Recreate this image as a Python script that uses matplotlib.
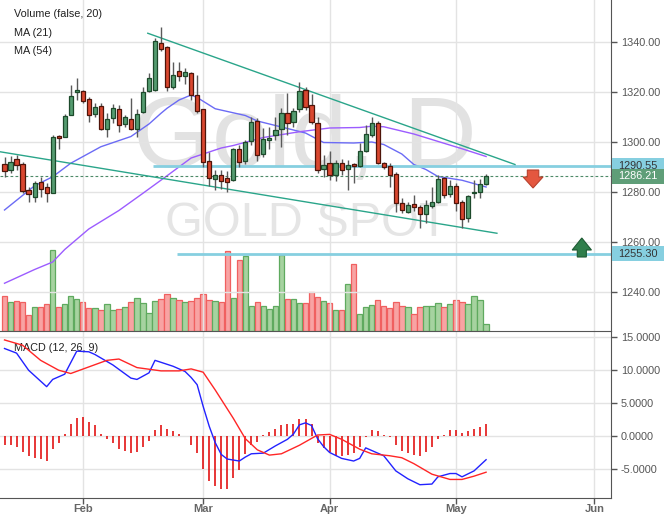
import matplotlib
matplotlib.use("Agg")
import matplotlib.pyplot as plt
import matplotlib.transforms as mtransforms
from matplotlib.patches import Rectangle, FancyArrow
from matplotlib.ticker import FormatStrFormatter

plt.rcParams['font.family'] = ['Liberation Sans', 'DejaVu Sans']
plt.rcParams['axes.unicode_minus'] = False

# --- data: gold spot, daily trading bars (index 0 = 2019-01-15) ---
opens = [1291.1, 1288.8, 1293.1, 1291.2, 1280.8, 1278.1, 1283.9, 1281.9, 1279.7, 1302.3,
         1302.1, 1310.8, 1319.9, 1320.4, 1317.1, 1311.1, 1314.4, 1305.3, 1309.5, 1313.1,
         1307.1, 1309.1, 1305.1, 1311.9, 1320.5, 1321.0, 1339.7, 1337.9, 1321.9, 1328.3,
         1326.5, 1327.7, 1318.7, 1313.1, 1292.3, 1285.3, 1286.7, 1285.6, 1284.8, 1297.1,
         1292.5, 1300.3, 1308.4, 1295.1, 1300.7, 1302.7, 1305.1, 1311.5, 1308.1, 1313.1,
         1320.8, 1314.7, 1307.7, 1289.1, 1291.5, 1286.7, 1291.5, 1289.1, 1291.1, 1290.4,
         1296.5, 1302.8, 1307.5, 1291.5, 1290.4, 1287.1, 1275.5, 1272.1, 1275.1, 1273.9,
         1271.1, 1274.5, 1275.9, 1285.5, 1279.1, 1282.4, 1275.9, 1269.5, 1279.5, 1280.1,
         1283.2]
highs = [1293.9, 1294.4, 1294.8, 1292.1, 1282.1, 1284.5, 1285.9, 1283.5, 1302.8, 1302.8,
         1311.2, 1322.8, 1325.5, 1320.9, 1318.1, 1315.7, 1315.7, 1311.5, 1315.2, 1314.8,
         1310.8, 1317.5, 1313.2, 1321.9, 1327.7, 1341.6, 1346.1, 1338.5, 1332.1, 1331.9,
         1329.5, 1327.9, 1326.8, 1313.4, 1296.1, 1288.8, 1288.8, 1288.5, 1297.5, 1298.8,
         1300.8, 1310.1, 1309.5, 1305.5, 1305.9, 1310.1, 1313.7, 1319.7, 1313.7, 1324.1,
         1322.1, 1319.1, 1309.9, 1294.8, 1296.5, 1292.8, 1293.1, 1292.8, 1291.5, 1299.5,
         1306.8, 1310.1, 1308.5, 1292.1, 1291.5, 1288.1, 1277.5, 1276.1, 1278.8, 1274.8,
         1276.8, 1281.9, 1286.8, 1286.1, 1284.8, 1283.5, 1276.8, 1278.8, 1284.8, 1285.1,
         1287.1]
lows = [1286.1, 1287.5, 1288.8, 1279.5, 1276.1, 1276.1, 1278.1, 1276.1, 1279.5, 1297.1,
        1302.1, 1310.8, 1316.8, 1315.7, 1308.1, 1309.9, 1304.8, 1302.1, 1307.5, 1304.1,
        1305.9, 1304.8, 1302.1, 1311.5, 1320.1, 1320.5, 1336.5, 1320.4, 1321.1, 1324.5,
        1323.2, 1316.8, 1311.5, 1289.9, 1282.4, 1280.8, 1281.1, 1280.1, 1284.5, 1289.9,
        1291.2, 1298.8, 1292.5, 1294.1, 1297.1, 1300.8, 1298.1, 1302.8, 1306.1, 1312.1,
        1312.8, 1307.1, 1287.7, 1286.1, 1284.8, 1284.5, 1286.8, 1280.8, 1283.5, 1289.9,
        1296.1, 1302.1, 1291.2, 1289.1, 1282.1, 1272.1, 1271.7, 1271.5, 1272.5, 1265.5,
        1267.5, 1273.5, 1275.5, 1277.5, 1278.1, 1272.5, 1265.5, 1268.1, 1277.5, 1277.5,
        1283.0]
closes = [1288.3, 1292.1, 1290.7, 1280.3, 1279.1, 1283.7, 1281.1, 1279.5, 1302.1, 1301.8,
          1310.4, 1318.4, 1320.8, 1316.5, 1310.7, 1314.1, 1305.3, 1309.1, 1313.5, 1306.8,
          1309.9, 1305.1, 1311.1, 1319.9, 1325.5, 1340.4, 1337.1, 1322.1, 1326.8, 1326.4,
          1327.9, 1318.8, 1312.4, 1292.1, 1285.7, 1286.7, 1284.5, 1284.1, 1297.1, 1292.1,
          1300.0, 1308.0, 1294.7, 1301.1, 1301.6, 1304.8, 1311.5, 1307.5, 1312.4, 1320.4,
          1313.9, 1308.0, 1288.8, 1290.8, 1286.8, 1291.5, 1288.8, 1290.7, 1290.5, 1296.4,
          1303.2, 1307.5, 1291.5, 1289.9, 1286.8, 1275.7, 1272.8, 1274.8, 1273.9, 1271.1,
          1274.8, 1275.9, 1285.2, 1278.8, 1282.4, 1275.7, 1269.1, 1278.4, 1280.0, 1283.2,
          1286.21]
volumes = [104, 86, 89, 86, 47, 73, 73, 82, 244, 73,
           80, 104, 97, 86, 70, 70, 64, 80, 64, 67,
           73, 86, 100, 83, 55, 89, 97, 110, 100, 94,
           86, 91, 100, 110, 94, 89, 86, 241, 100, 214,
           224, 76, 86, 76, 67, 76, 229, 97, 97, 83,
           83, 116, 101, 91, 83, 64, 64, 140, 200, 52,
           73, 79, 94, 76, 70, 88, 76, 73, 52, 73,
           76, 76, 85, 73, 82, 94, 86, 82, 106, 94, 22]

ma21_idx = [0, 5, 8, 11, 16, 21, 24, 26, 27, 29, 31, 32, 35, 40, 42, 46, 48, 50, 53,
            58, 61, 63, 66, 68, 70, 72, 76, 80]
ma21_val = [1272.8, 1282.5, 1286.1, 1291.5, 1298.1, 1302.2, 1307.2, 1311.5, 1313.5, 1316.8,
            1318.8, 1317.8, 1313.3, 1310.6, 1308.4, 1306.0, 1304.8, 1303.6, 1299.8,
            1299.6, 1300.0, 1299.0, 1295.2, 1291.0, 1289.0, 1286.2, 1284.7, 1282.0]
ma54_idx = [0, 5, 8, 10, 14, 19, 23, 27, 31, 36, 38, 43, 49, 54, 59, 61, 63, 68, 73, 76, 80]
ma54_val = [1243.5, 1249.0, 1252.0, 1257.0, 1265.2, 1272.6, 1279.5, 1286.5, 1293.6, 1297.6,
            1298.6, 1301.8, 1304.1, 1305.6, 1305.8, 1306.3, 1306.1, 1303.2, 1299.5, 1297.3,
            1294.2]

macd_idx = [0, 2, 4, 7, 8, 10, 12, 14, 15, 18, 21, 22, 24, 25, 26, 28, 30, 31, 32, 33,
            34, 35, 36, 37, 39, 40, 41, 43, 45, 47, 48, 49, 50, 51, 52, 53, 54, 56, 58,
            59, 60, 63, 65, 67, 69, 71, 72, 74, 75, 76, 78, 80]
macd_val = [13.3, 12.6, 10.0, 7.5, 8.6, 9.4, 12.9, 12.8, 12.4, 10.8, 8.8, 8.6, 9.6, 11.5,
            11.2, 10.6, 9.8, 8.9, 7.8, 4.5, 1.5, -1.0, -2.8, -3.5, -3.8, -3.2, -2.7, -2.6,
            -1.5, -0.5, 0.3, 1.7, 2.0, 1.6, -0.4, -1.6, -2.5, -3.4, -3.8, -3.4, -1.8, -3.0,
            -5.3, -6.5, -7.4, -7.3, -6.2, -5.7, -5.7, -6.2, -5.3, -3.6]
signal_idx = [0, 3, 6, 9, 11, 14, 17, 19, 22, 26, 29, 31, 33, 35, 38, 40, 42, 44, 46,
              49, 52, 54, 56, 59, 61, 64, 66, 68, 71, 74, 76, 78, 80]
signal_val = [14.6, 13.8, 11.5, 10.0, 9.5, 10.5, 11.5, 11.7, 10.4, 9.9, 9.9, 10.2, 9.7, 7.0,
              2.7, -0.4, -2.1, -2.9, -2.7, -1.4, 0.15, 0.25, -0.5, -2.0, -2.7, -3.0, -3.3,
              -4.2, -5.8, -6.6, -6.6, -6.1, -5.5]
hist_val = [-1.3, -1.3, -1.6, -2.4, -3.1, -3.4, -3.5, -3.8, -2.0, -1.0,
            0.3, 1.8, 2.8, 2.9, 2.1, 1.7, 0.25, -0.5, -1.0, -2.0,
            -2.3, -2.6, -2.4, -1.6, -0.7, 0.9, 1.7, 1.0, 0.75, 0.25,
            0.05, -1.4, -2.6, -5.0, -6.8, -7.6, -8.1, -8.0, -6.4, -5.1,
            -2.7, -1.4, -0.9, 0.15, 0.6, 1.1, 1.7, 1.8, 1.9, 2.55,
            2.55, 1.8, -1.0, -1.8, -2.5, -3.1, -3.0, -2.9, -2.6, -1.7,
            -0.1, 0.9, 0.7, 0.2, -0.1, -1.4, -2.3, -2.6, -2.9, -3.0,
            -2.4, -1.6, -0.4, 0.1, 0.9, 0.9, 0.4, 0.7, 1.0, 1.35, 1.8]

month_labels = ["Feb", "Mar", "Apr", "May", "Jun"]
month_bar_idx = [13, 33, 54, 75, 98]

# drawn objects on the chart
upper_trend = ([23.8, 84.8], [1343.5, 1291.0])
lower_trend = ([-0.75, 81.8], [1296.1, 1263.5])
resistance, resistance_from = 1290.55, 24.7
support, support_from = 1255.30, 28.7
sell_signal = (87.8, 1288.8)
buy_signal = (95.9, 1254.0)

# --- layout ---
W, H = 664, 519
fig = plt.figure(figsize=(W / 100, H / 100), dpi=100)
ax = fig.add_axes([0, 1 - 331 / H, 611 / W, 331 / H])
axm = fig.add_axes([0, 1 - 498 / H, 611 / W, (498 - 331) / H], sharex=ax)
axv = ax.twinx()
ax.set_zorder(axv.get_zorder() + 1)
ax.patch.set_visible(False)

idx = list(range(len(closes)))
up = [c >= o for o, c in zip(opens, closes)]
grid_c = '#e3e3e3'
axis_c = '#555555'

# volume
axv.bar(idx, volumes, width=0.9,
        color=['#a6d3a0' if u else '#f8a3a3' for u in up],
        edgecolor=['#5faa5f' if u else '#f06060' for u in up], linewidth=0.9)
axv.set_ylim(0, 993)
axv.tick_params(right=False, labelright=False)
for s in axv.spines.values():
    s.set_visible(False)

# watermark
ax.text(0.499, 1 - 167 / 331, "Gold, D", transform=ax.transAxes, ha='center', va='baseline',
        fontsize=73, color='#e2e2e2', zorder=0)
ax.text(0.503, 1 - 236 / 331, "GOLD SPOT", transform=ax.transAxes, ha='center', va='baseline',
        fontsize=35, color='#e5e5e5', zorder=0)

# moving averages
ax.plot(ma21_idx, ma21_val, color='#6b6bf5', lw=1.0, zorder=2)
ax.plot(ma54_idx, ma54_val, color='#9c5cff', lw=1.0, zorder=2)

# levels and trend lines
ax.hlines(resistance, resistance_from, 101, color='#86cfe0', lw=2, zorder=2)
ax.hlines(support, support_from, 101, color='#86cfe0', lw=2, zorder=2)
ax.axhline(closes[-1], color='#4d8a68', lw=0.8, ls=(0, (2.5, 2)), zorder=2)
ax.plot(*upper_trend, color='#2aa58a', lw=1.0, zorder=2)
ax.plot(*lower_trend, color='#2aa58a', lw=1.0, zorder=2)

# candles
ax.vlines(idx, lows, highs, color='#5a5a5a', lw=1.0, zorder=3)
ax.bar(idx, [abs(c - o) for o, c in zip(opens, closes)],
       bottom=[min(o, c) for o, c in zip(opens, closes)], width=0.7,
       color=['#559c70' if u else '#d9472f' for u in up],
       edgecolor=['#1d4a2b' if u else '#4e1409' for u in up], linewidth=0.9, zorder=4)

# signal arrows
ax.add_patch(FancyArrow(sell_signal[0], sell_signal[1], 0, -7.2, width=1.9, head_width=3.3,
                        head_length=4.4, length_includes_head=True,
                        fc='#e4573f', ec='#b8412d', lw=0.8, zorder=5))
ax.add_patch(FancyArrow(buy_signal[0], buy_signal[1], 0, 7.6, width=1.5, head_width=3.2,
                        head_length=4.8, length_includes_head=True,
                        fc='#2f7e4b', ec='#1d5a33', lw=0.8, zorder=5))

ax.set_xlim(-0.75, 100.75)
ax.set_ylim(1224.4, 1356.8)
ax.yaxis.tick_right()
ax.set_yticks(range(1240, 1341, 20))
ax.yaxis.set_major_formatter(FormatStrFormatter('%.2f'))
ax.tick_params(axis='y', direction='out', length=4, width=1, color=axis_c,
               labelcolor=axis_c, labelsize=7.8, pad=3)
ax.tick_params(axis='x', bottom=False, labelbottom=False)
ax.set_xticks(month_bar_idx)
ax.grid(True, color=grid_c, lw=1)
ax.set_axisbelow(True)
for s in ['left', 'top']:
    ax.spines[s].set_visible(False)
ax.spines['right'].set_color(axis_c)
ax.spines['bottom'].set_color(axis_c)

# legend texts
for k, t in enumerate(["Volume (false, 20)", "MA (21)", "MA (54)"]):
    ax.text(14 / 611, 1 - (14 + 18.5 * k) / 331, t, transform=ax.transAxes,
            ha='left', va='center', fontsize=7.8, color='#222222')

# price tags on the right
tag_tr = mtransforms.blended_transform_factory(ax.transAxes, ax.transData)
for val, fc, tc in [(resistance, '#86cfe0', '#333333'), (closes[-1], '#5f9e78', 'white'),
                    (support, '#86cfe0', '#333333')]:
    ax.add_patch(Rectangle((1.0015, val - 3.0), 53 / 611, 6.0, transform=tag_tr,
                           fc=fc, ec='none', clip_on=False, zorder=6))
    ax.text(1 + 7 / 611, val, f"{val:.2f}", transform=tag_tr, ha='left', va='center',
            fontsize=7.8, color=tc, zorder=7, clip_on=False)

# MACD panel
axm.vlines(idx, 0, hist_val, color='#e00000', lw=1.1, zorder=3)
axm.plot(macd_idx, macd_val, color='#2222ff', lw=1.0, zorder=4)
axm.plot(signal_idx, signal_val, color='#ff2626', lw=1.0, zorder=4)
axm.set_ylim(-9.42, 15.96)
axm.yaxis.tick_right()
axm.set_yticks([-5, 0, 5, 10, 15])
axm.yaxis.set_major_formatter(FormatStrFormatter('%.4f'))
axm.tick_params(axis='y', direction='out', length=4, width=1, color=axis_c,
                labelcolor=axis_c, labelsize=7.8, pad=3)
axm.set_xticks(month_bar_idx)
axm.set_xticklabels(month_labels)
axm.tick_params(axis='x', direction='out', length=4, width=1, color=axis_c,
                labelcolor='#666666', labelsize=8, pad=0)
for lab in axm.get_xticklabels():
    lab.set_fontweight('bold')
axm.grid(True, color=grid_c, lw=1)
axm.set_axisbelow(True)
for s in ['left', 'top']:
    axm.spines[s].set_visible(False)
axm.spines['right'].set_color(axis_c)
axm.spines['bottom'].set_color(axis_c)
axm.text(14 / 611, 1 - 17 / 167, "MACD (12, 26, 9)", transform=axm.transAxes,
         ha='left', va='center', fontsize=7.8, color='#222222')

fig.savefig("out.png", dpi=100)
